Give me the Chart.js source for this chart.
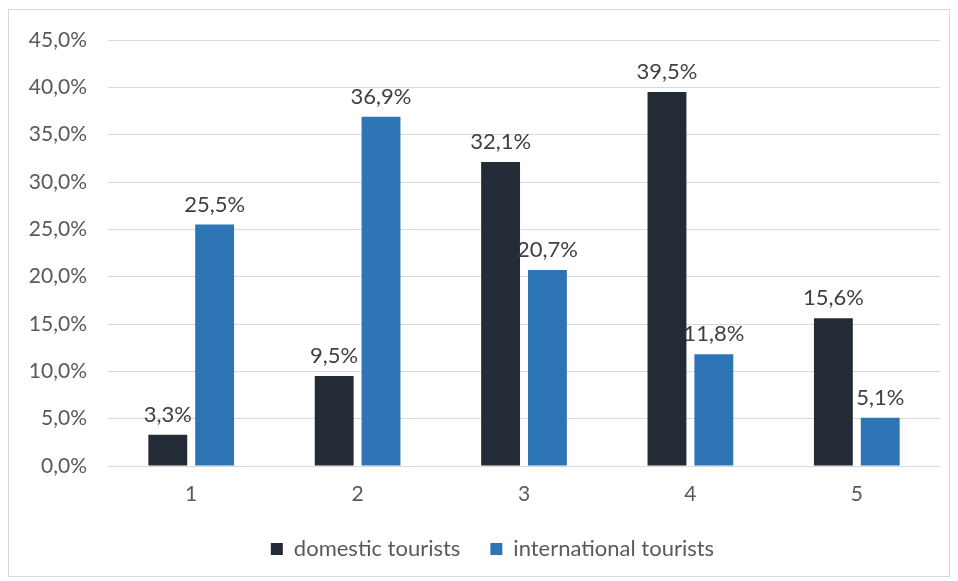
<!DOCTYPE html>
<html>
<head>
<meta charset="utf-8">
<script src="https://cdn.jsdelivr.net/npm/chart.js@4"></script>
<style>
  body { margin: 0; background: #fff; }
  .wrap { position: absolute; left: 8px; top: 9px; width: 940px; height: 566px; border: 1px solid #d9d9d9; }
</style>
</head>
<body>
<div class="wrap"><canvas id="chart" width="940" height="566"></canvas></div>
<script>
var categories = ['1', '2', '3', '4', '5'];
var domestic = [3.3, 9.5, 32.1, 39.5, 15.6];
var international = [25.5, 36.9, 20.7, 11.8, 5.1];

function pct(v) {
    return v.toFixed(1).replace('.', ',') + '%';
}

// labels above each bar
var barLabels = {
    id: 'barLabels',
    afterLayout: function (chart) {
        // legend sits a bit right of centre in the original
        chart.legend.left += 18;
        chart.legend.right += 18;
    },
    afterDatasetsDraw: function (chart) {
        var ctx = chart.ctx;
        ctx.save();
        ctx.font = '22px Lato';
        ctx.fillStyle = '#404040';
        ctx.textAlign = 'center';
        ctx.textBaseline = 'bottom';
        chart.data.datasets.forEach(function (ds, i) {
            chart.getDatasetMeta(i).data.forEach(function (bar, j) {
                ctx.fillText(pct(ds.data[j]), bar.x, bar.y - 9);
            });
        });
        ctx.restore();
    }
};

var ctx = document.getElementById('chart');
window.myChart = new Chart(ctx, {
    type: 'bar',
    data: {
        labels: categories,
        datasets: [{
            label: 'domestic tourists',
            data: domestic,
            backgroundColor: '#232b36'
        }, {
            label: 'international tourists',
            data: international,
            backgroundColor: '#2e75b6'
        }]
    },
    options: {
        responsive: false,
        animation: false,
        layout: {
            padding: { top: 30, right: 9, left: 0, bottom: 6 }
        },
        datasets: {
            bar: {
                barPercentage: 0.83,
                categoryPercentage: 0.563
            }
        },
        scales: {
            x: {
                grid: { display: false },
                border: { color: '#d9d9d9' },
                ticks: {
                    color: '#595959',
                    font: { size: 21, family: 'Lato' },
                    padding: 8
                },
                afterFit: function (scale) { scale.height = 42; }
            },
            y: {
                min: 0,
                max: 45,
                grid: { color: '#d9d9d9', tickLength: 16, tickColor: 'rgba(0,0,0,0)' },
                border: { display: false },
                ticks: {
                    stepSize: 5,
                    color: '#595959',
                    font: { size: 21, family: 'Lato' },
                    padding: 5,
                    callback: function (v) { return pct(v); }
                },
                afterFit: function (scale) { scale.width = 99; }
            }
        },
        plugins: {
            tooltip: { enabled: false },
            legend: {
                position: 'bottom',
                labels: {
                    color: '#595959',
                    font: { size: 22, family: 'Lato' },
                    boxWidth: 12,
                    boxHeight: 12,
                    padding: 30
                }
            }
        }
    },
    plugins: [barLabels]
});
</script>
</body>
</html>
